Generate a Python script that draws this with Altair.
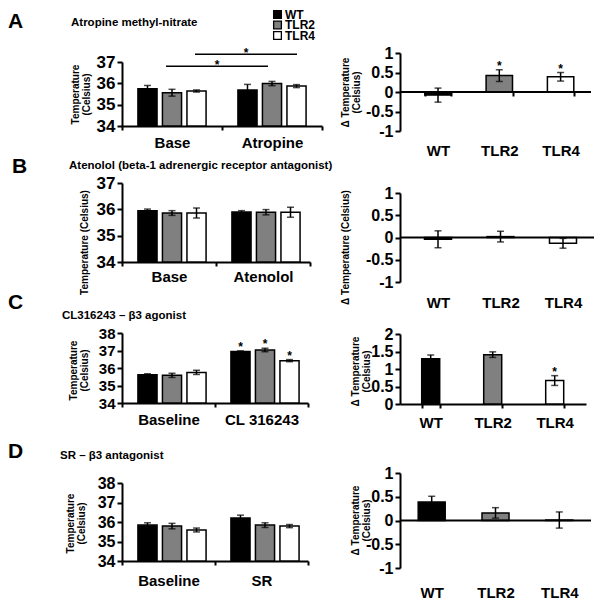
import altair as alt
import pandas as pd

FONT = "Liberation Sans"
genotypes = ["WT", "TLR2", "TLR4"]
bar_colors = ["#000000", "#808080", "#ffffff"]

# ---------------- Panel A ----------------
a_letter = "A"
a_title = "Atropine methyl-nitrate"
a_groups = ["Base", "Atropine"]
a_mean = [35.75, 35.56, 35.64, 35.69, 35.99, 35.87]
a_err = [0.15, 0.16, 0.05, 0.26, 0.10, 0.07]
a_delta = [-0.08, 0.42, 0.39]
a_delta_err = [0.18, 0.15, 0.11]
a_delta_star = [False, True, True]
a_sig_start = [0.44, 0.73]   # category units (0..2)
a_sig_end = [1.46, 1.75]
a_sig_level = [36.8, 37.36]

# ---------------- Panel B ----------------
b_letter = "B"
b_title = "Atenolol (beta-1 adrenergic receptor antagonist)"
b_groups = ["Base", "Atenolol"]
b_mean = [35.95, 35.86, 35.86, 35.90, 35.89, 35.89]
b_err = [0.06, 0.09, 0.19, 0.05, 0.10, 0.19]
b_delta = [-0.04, 0.02, -0.13]
b_delta_err = [0.19, 0.12, 0.11]

# ---------------- Panel C ----------------
c_letter = "C"
c_title = "CL316243 \u2013 \u03b23 agonist"
c_groups = ["Baseline", "CL 316243"]
c_mean = [35.62, 35.58, 35.75, 36.95, 37.03, 36.42]
c_err = [0.05, 0.12, 0.12, 0.03, 0.10, 0.06]
c_star = [False, False, False, True, True, True]
c_delta = [1.29, 1.41, 0.67]
c_delta_err = [0.11, 0.08, 0.14]
c_delta_star = [False, False, True]

# ---------------- Panel D ----------------
d_letter = "D"
d_title = "SR \u2013 \u03b23 antagonist"
d_groups = ["Baseline", "SR"]
d_mean = [35.84, 35.79, 35.59, 36.21, 35.84, 35.79]
d_err = [0.12, 0.14, 0.10, 0.14, 0.12, 0.08]
d_delta = [0.39, 0.16, 0.01]
d_delta_err = [0.12, 0.11, 0.17]

left_ticks_37 = [34, 35, 36, 37]
left_ticks_38 = [34, 35, 36, 37, 38]
delta_ticks = [-1, -0.5, 0, 0.5, 1]
delta_ticks_c = [0, 0.5, 1, 1.5, 2]

TEMP2 = ["Temperature", "(Celsius)"]
TEMP1 = "Temperature (Celsius)"
DTEMP2 = ["\u0394 Temperature", "(Celsius)"]
DTEMP1 = "\u0394 Temperature (Celsius)"

WL, WR = 278, 150   # grid cell widths (left / right column)


def txt(text, x, y, size, baseline="alphabetic", align="left", weight="bold"):
    return alt.Chart(pd.DataFrame({"t": [text]})).mark_text(
        align=align, baseline=baseline, fontSize=size, fontWeight=weight,
        font=FONT, color="black").encode(x=alt.value(x), y=alt.value(y), text="t:N")


def err_layers(base, yscale, yaxis):
    rule = base.mark_rule(color="black", strokeWidth=1.5).encode(
        y=alt.Y("lo:Q", scale=yscale, axis=yaxis), y2="hi:Q")
    cap_hi = base.mark_tick(color="black", thickness=1.5, size=7).encode(
        y=alt.Y("hi:Q", scale=yscale, axis=yaxis))
    cap_lo = base.mark_tick(color="black", thickness=1.5, size=7).encode(
        y=alt.Y("lo:Q", scale=yscale, axis=yaxis))
    stars = base.transform_filter(alt.datum.star).mark_text(
        text="*", dy=-4, fontSize=12, fontWeight="bold", font=FONT, color="black").encode(
        y=alt.Y("hi:Q", scale=yscale, axis=yaxis))
    return [rule, cap_hi, cap_lo, stars]


def left_panel(groups, mean, err, yticks, cellH, dy, w, h, po_in, pi_in, title,
               title_x, title_y, label_pad, ylab_size, star=None):
    ymin, ymax = yticks[0], yticks[-1]
    n = len(groups) * len(genotypes)
    df = pd.DataFrame({
        "group": [g for g in groups for _ in genotypes],
        "geno": genotypes * len(groups),
        "mean": mean, "err": err,
        "star": star if star else [False] * n,
    })
    df["lo"] = df["mean"] - df["err"]
    df["hi"] = df["mean"] + df["err"]
    xenc = alt.X("group:N", sort=groups, title=None,
                 scale=alt.Scale(paddingInner=0, paddingOuter=0, range=[0, w]),
                 axis=alt.Axis(labelAngle=0, tickBand="extent", tickSize=4,
                               offset=-(cellH - dy - h),
                               labelPadding=label_pad, labelFontSize=15))
    xoff = alt.XOffset("geno:N", sort=genotypes,
                       scale=alt.Scale(paddingInner=pi_in, paddingOuter=po_in))
    yscale = alt.Scale(domain=[ymin, ymax], zero=False, nice=False, range=[dy + h, dy])
    yaxis = alt.Axis(values=yticks, labelExpr="'' + datum.value", title=title,
                     titleX=title_x, titleY=title_y, titleBaseline="bottom",
                     titleAlign="center", titleAngle=270, titleFontSize=10,
                     titleLineHeight=11, labelFontSize=ylab_size, tickSize=5,
                     labelPadding=2, labelOverlap=False)
    base = alt.Chart(df).encode(x=xenc, xOffset=xoff)
    bars = base.mark_bar(stroke="black", strokeWidth=1.5).encode(
        y=alt.Y("mean:Q", scale=yscale, axis=yaxis), y2=alt.datum(ymin),
        color=alt.Color("geno:N", scale=alt.Scale(domain=genotypes, range=bar_colors), legend=None))
    return alt.layer(bars, *err_layers(base, yscale, yaxis)), yscale, yaxis


def right_panel(vals, errs, yticks, cellH, dy, w, h, c1, step, bw, title,
                title_x, title_y, label_top, zero_ticks=False, star=None):
    ymin, ymax = yticks[0], yticks[-1]
    df = pd.DataFrame({"geno": genotypes, "val": vals, "err": errs,
                       "star": star if star else [False] * 3})
    df["lo"] = df["val"] - df["err"]
    df["hi"] = df["val"] + df["err"]
    pi = 1 - bw / step
    leftover = w - step * (3 - pi)
    po = leftover / (2 * step)
    align = min(1, max(0, (c1 - bw / 2) / leftover))
    xscale = alt.Scale(domain=genotypes, paddingInner=pi, paddingOuter=po,
                       align=align, range=[0, w])
    if ymin < 0:
        zero_px = dy + h * (ymax - 0) / (ymax - ymin)
        xaxis = alt.Axis(labelAngle=0, domain=False, ticks=zero_ticks,
                         tickBand="extent", tickSize=4,
                         offset=-(cellH - zero_px),
                         labelPadding=label_top - zero_px - (4 if zero_ticks else 0),
                         labelFontSize=15)
    else:
        xaxis = alt.Axis(labelAngle=0, tickBand="extent", tickSize=4,
                         offset=-(cellH - dy - h),
                         labelPadding=label_top - (dy + h) - 4, labelFontSize=15)
    xenc = alt.X("geno:N", sort=genotypes, title=None, scale=xscale, axis=xaxis)
    yscale = alt.Scale(domain=[ymin, ymax], zero=False, nice=False, range=[dy + h, dy])
    yaxis = alt.Axis(values=yticks, labelExpr="'' + datum.value", title=title,
                     titleX=title_x, titleY=title_y, titleBaseline="bottom",
                     titleAlign="center", titleAngle=270, titleFontSize=10,
                     titleLineHeight=11, labelFontSize=16, tickSize=5,
                     labelPadding=2, labelOverlap=False)
    base = alt.Chart(df).encode(x=xenc)
    bars = base.mark_bar(stroke="black", strokeWidth=1.5).encode(
        y=alt.Y("val:Q", scale=yscale, axis=yaxis), y2=alt.datum(0),
        color=alt.Color("geno:N", scale=alt.Scale(domain=genotypes, range=bar_colors), legend=None))
    layers = [bars] + err_layers(base, yscale, yaxis)
    if ymin < 0:
        zero = alt.Chart(pd.DataFrame({"z": [0]})).mark_rule(color="black", strokeWidth=2).encode(
            y=alt.Y("z:Q", scale=yscale, axis=yaxis), x=alt.value(0), x2=alt.value(w))
        layers.append(zero)
    return alt.layer(*layers).properties(width=WR, height=cellH)


# ---- Row A (cell height 130; left plot origin x=122, right x=400, top y=52) ----
HA = 130
a_left_core, a_ys, a_ya = left_panel(a_groups, a_mean, a_err, left_ticks_37, HA,
                                     9, 200, 64, 0.65, 0.22, TEMP2, -42, 41, 5, 17)
a_sig = pd.DataFrame({"x1": a_sig_start, "x2": a_sig_end, "y": a_sig_level})
a_sig["xm"] = (a_sig["x1"] + a_sig["x2"]) / 2
sig_x = alt.Scale(domain=[0, 2], nice=False, zero=False, range=[0, 200])
sig_lines = alt.Chart(a_sig).mark_rule(color="black", strokeWidth=1.5).encode(
    x=alt.X("x1:Q", scale=sig_x, axis=None), x2="x2:Q",
    y=alt.Y("y:Q", scale=a_ys, axis=a_ya))
sig_stars = alt.Chart(a_sig).mark_text(text="*", dy=-1, fontSize=12, fontWeight="bold",
                                       font=FONT, color="black").encode(
    x=alt.X("xm:Q", scale=sig_x, axis=None), y=alt.Y("y:Q", scale=a_ys, axis=a_ya))
legend_layers = []
for i, (g, c) in enumerate(zip(genotypes, bar_colors)):
    yy = -38.5 + i * 10.5
    legend_layers.append(
        alt.Chart(pd.DataFrame({"g": [g]})).mark_square(
            size=60, stroke="black", strokeWidth=1.3, fill=c, opacity=1).encode(
            x=alt.value(155.5), y=alt.value(yy)))
    legend_layers.append(txt(g, 163, yy, 12, baseline="middle"))
a_left = alt.layer(
    alt.layer(a_left_core, sig_lines, sig_stars).resolve_scale(x="independent"),
    txt(a_letter, -114, -25, 21), txt(a_title, -51, -27, 11.5), *legend_layers
).properties(width=WL, height=HA)
a_right = right_panel(a_delta, a_delta_err, delta_ticks, HA, 0, 191, 78,
                      38, 61.3, 26.4, DTEMP2, -50, 39, 90, True, a_delta_star)

# ---- Row B (cell height 150; top y=182) ----
HB = 150
b_left_core, _, _ = left_panel(b_groups, b_mean, b_err, left_ticks_37, HB,
                               0, 188, 79, 0.54, 0.17, TEMP1, -33, 59, 3, 17)
b_left = alt.layer(b_left_core, txt(b_letter, -110, -10, 21),
                   txt(b_title, -53, -14, 11.5)).properties(width=WL, height=HB)
b_right = right_panel(b_delta, b_delta_err, delta_ticks, HB, 10, 194, 89,
                      38, 62.5, 27, DTEMP1, -50, 64, 112)

# ---- Row C (cell height 140; top y=332) ----
HC = 140
c_left_core, _, _ = left_panel(c_groups, c_mean, c_err, left_ticks_38, HC,
                               0, 186, 70, 0.81, 0.19, TEMP2, -44, 37, 5, 15, c_star)
c_left = alt.layer(c_left_core, txt(c_letter, -114, -24, 21),
                   txt(c_title, -60, -14, 11.5)).properties(width=WL, height=HC)
c_right = right_panel(c_delta, c_delta_err, delta_ticks_c, HC, 1, 186, 70,
                      30.7, 62, 18, DTEMP2, -40, 38, 82, False, c_delta_star)

# ---- Row D (cell height 95; top y=472) ----
HD = 95
d_left_core, _, _ = left_panel(d_groups, d_mean, d_err, left_ticks_38, HD,
                               10, 186, 78, 0.92, 0.18, TEMP2, -47, 50, 8, 16)
d_left = alt.layer(d_left_core, txt(d_letter, -114, -15, 21),
                   txt(d_title, -62, -14, 11.5)).properties(width=WL, height=HD)
d_right = right_panel(d_delta, d_delta_err, delta_ticks, HD, 0, 191, 95,
                      31.7, 63.8, 27, DTEMP2, -40, 47, 112)

chart = alt.concat(
    a_left, a_right, b_left, b_right, c_left, c_right, d_left, d_right,
    columns=2, spacing=0, bounds="flush"
).properties(padding=0).configure_view(stroke=None).configure_axis(
    grid=False, domainColor="black", domainWidth=2, tickColor="black", tickWidth=2,
    labelColor="black", titleColor="black", labelFont=FONT, titleFont=FONT,
    labelFontWeight="bold", titleFontWeight="bold")

chart.save("out.html", embed_options={"renderer": "svg", "actions": False})
